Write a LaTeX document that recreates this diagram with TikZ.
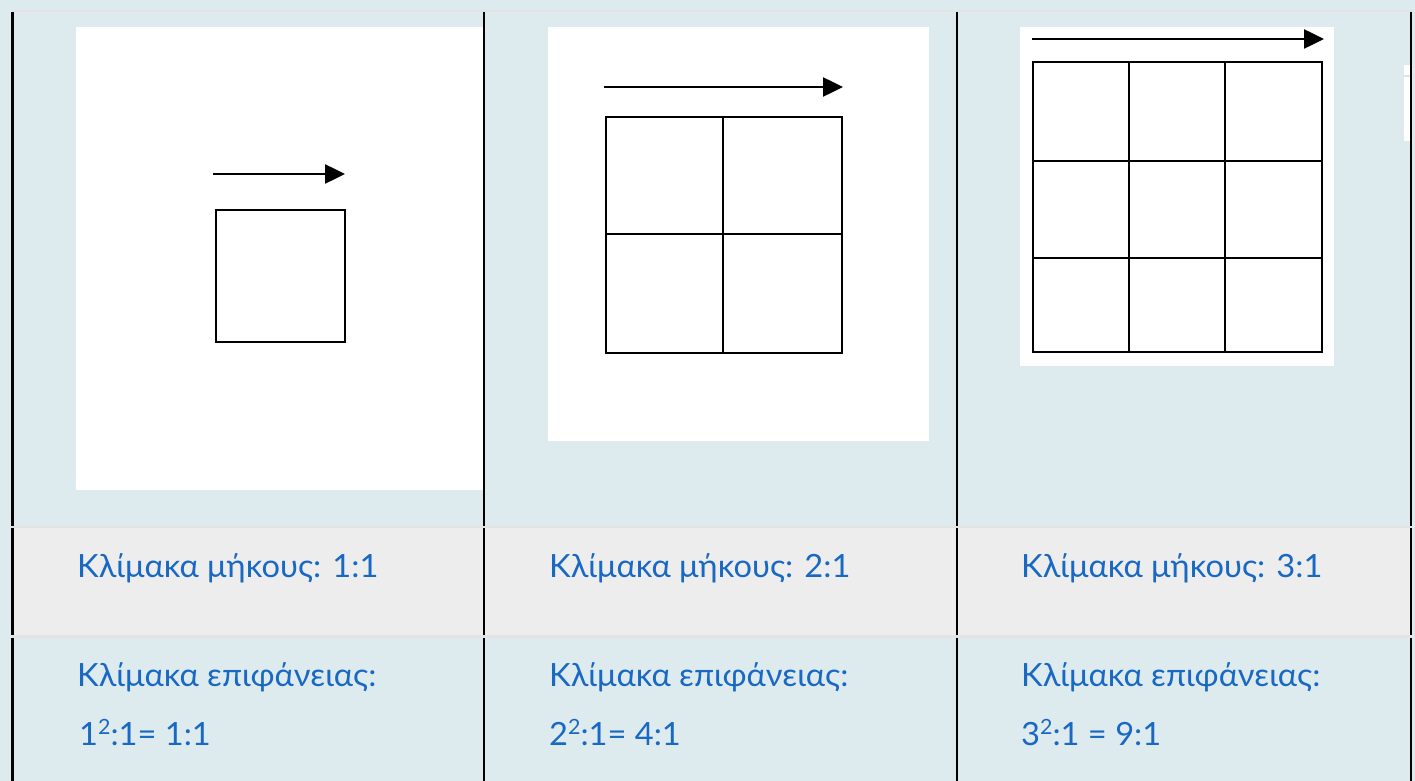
\documentclass[tikz,border=0pt]{standalone}
\usepackage{fontspec}
\setmainfont{Lato}[FakeStretch=1.02]
\usetikzlibrary{arrows.meta}
\definecolor{rowblue}{RGB}{221,235,239}
\definecolor{rowgrey}{RGB}{237,237,237}
\definecolor{rule}{RGB}{227,227,227}
\definecolor{textblue}{RGB}{24,104,196}
\newcommand{\sqsup}[1]{\raisebox{0.32em}{\fontsize{21}{21}\selectfont #1}}
\tikzset{
  x=1pt, y=-1pt,
  label/.style={anchor=base west, inner sep=0pt, text=textblue,
    font=\fontsize{32}{38}\selectfont},
  panel/.style={fill=white, draw=none},
  gridline/.style={line width=2.5pt, black},
  scalearrow/.style={line width=2.5pt, black, -{Triangle[length=20pt,width=19pt]}},
  colrule/.style={line width=2.6pt, black}
}
\begin{document}
\begin{tikzpicture}
\useasboundingbox (0,0) rectangle (1415,781);
% table background and rows
\fill[rowblue] (0,0) rectangle (1415,781);
\fill[rule] (12,10) rectangle (1415,12);
\fill[rowgrey] (12,526) rectangle (1410,636);
\fill[rule] (12,526) rectangle (1410,528);
\fill[rule] (12,635) rectangle (1410,638);
% stray white strip at the right edge
\fill[white] (1404,65) rectangle (1410,141);
\draw[rule, line width=1.5pt] (1404,76) -- (1410,76);

% panel 1: one square
\fill[panel] (76,27) rectangle (484,490);
\coordinate (a1s) at (213,174);
\coordinate (a1e) at (345,174);
\draw[scalearrow] (a1s) -- (a1e);
\draw[gridline] (216,210) rectangle (345,342);

% panel 2: 2x2 grid
\fill[panel] (548,27) rectangle (929,441);
\coordinate (a2s) at (604,87);
\coordinate (a2e) at (843,87);
\draw[scalearrow] (a2s) -- (a2e);
\draw[gridline] (606,117) rectangle (842,353);
\draw[gridline] (723,117) -- (723,353);
\draw[gridline] (606,234) -- (842,234);

% panel 3: 3x3 grid
\fill[panel] (1020,27) rectangle (1334,366);
\coordinate (a3s) at (1032,39);
\coordinate (a3e) at (1324,39);
\draw[scalearrow] (a3s) -- (a3e);
\draw[gridline] (1033,62) rectangle (1322,352);
\draw[gridline] (1129,62) -- (1129,352);
\draw[gridline] (1225,62) -- (1225,352);
\draw[gridline] (1033,161) -- (1322,161);
\draw[gridline] (1033,258) -- (1322,258);

% column rules, broken at the row borders
\foreach \cx in {12.5,484,957,1411}{
  \draw[colrule] (\cx,12) -- (\cx,526);
  \draw[colrule] (\cx,528) -- (\cx,635);
  \draw[colrule] (\cx,638) -- (\cx,781);
}

% length scale row
\node[label] (len1) at (77,577) {Κλίμακα μήκους: 1:1};
\node[label] (len2) at (549,577) {Κλίμακα μήκους: 2:1};
\node[label] (len3) at (1021,577) {Κλίμακα μήκους: 3:1};

% area scale row
\node[label] (area1) at (77,686) {Κλίμακα επιφάνειας:};
\node[label] (area2) at (549,686) {Κλίμακα επιφάνειας:};
\node[label] (area3) at (1021,686) {Κλίμακα επιφάνειας:};
\node[label] (eq1) at (79,745) {1\sqsup{2}:1= 1:1};
\node[label] (eq2) at (549,745) {2\sqsup{2}:1= 4:1};
\node[label] (eq3) at (1021,745) {3\sqsup{2}:1 = 9:1};
\end{tikzpicture}
\end{document}
